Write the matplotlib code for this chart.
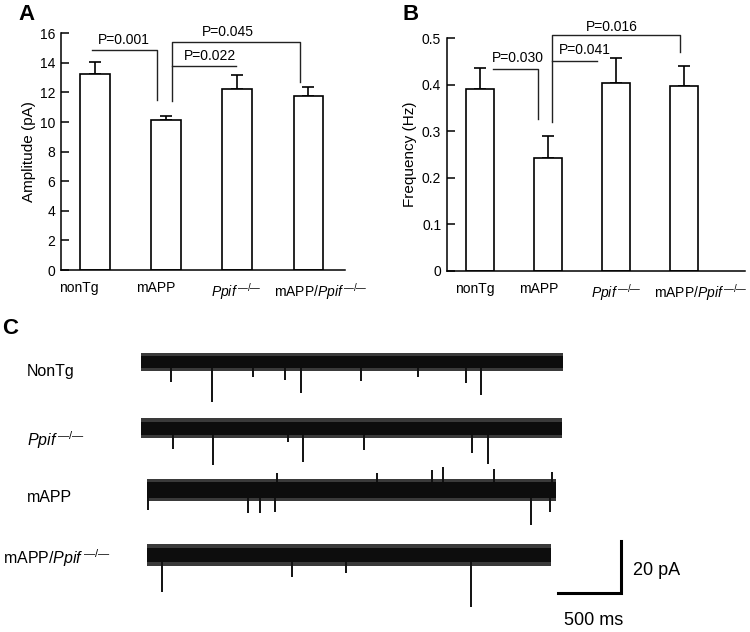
import numpy as np
import matplotlib
matplotlib.use("Agg")
import matplotlib.pyplot as plt

plt.rcParams['font.family'] = ['Liberation Sans', 'DejaVu Sans']
plt.rcParams['mathtext.fontset'] = 'custom'
plt.rcParams['mathtext.rm'] = 'Liberation Sans'
plt.rcParams['mathtext.it'] = 'Liberation Sans:italic'

# ---- data ----
groups = ['nonTg', 'mAPP', r'$Ppif^{\,\mathrm{—/—}}$', r'mAPP/$Ppif^{\,\mathrm{—/—}}$']

amp_mean = [13.27, 10.11, 12.23, 11.77]
amp_sem = [0.78, 0.31, 0.97, 0.63]
amp_p = ['P=0.001', 'P=0.045', 'P=0.022']

freq_mean = [0.390, 0.242, 0.403, 0.397]
freq_sem = [0.046, 0.047, 0.054, 0.044]
freq_p = ['P=0.030', 'P=0.016', 'P=0.041']

# sample traces: baseline span (ms) and clear events (time ms, pA; negative = inward)
trace_names = ['NonTg', r'$Ppif^{\,\mathrm{—/—}}$', 'mAPP', r'mAPP/$Ppif^{\,\mathrm{—/—}}$']
trace_span = [(0, 3363), (0, 3353), (48, 3305), (48, 3270)]
ev_nontg_t = [239, 563, 893, 1148, 1273, 1751, 2208, 2588, 2710]
ev_nontg_a = [-7.6, -15.2, -5.7, -6.8, -11.8, -7.2, -5.7, -8.0, -12.5]
ev_ppif_t = [255, 574, 1172, 1291, 1777, 2636, 2763]
ev_ppif_a = [-8.0, -14.0, -5.3, -12.9, -8.4, -9.5, -13.7]
ev_mapp_t = [56, 853, 948, 1068, 1082, 1879, 2317, 2407, 2813, 3108, 3260, 3273]
ev_mapp_a = [-7.6, -8.7, -8.7, -8.4, 6.5, 6.5, 7.6, 8.7, 8.0, -13.3, -8.4, 6.8]
ev_dbl_t = [170, 1201, 1634, 2630]
ev_dbl_a = [-14.0, -8.4, -6.8, -19.8]

# ---- layout ----
fig = plt.figure(figsize=(7.5, 6.32), dpi=100)
W, H = 750, 632


def px_axes(l, r, t, b):
    return fig.add_axes([l / W, 1 - b / H, (r - l) / W, (b - t) / H])


def bar_panel(ax, means, sems, ylim, yticks, ylabel, xlim, lab_x, brackets, pvals):
    x = np.arange(len(means))
    ax.bar(x, means, width=0.41, color='white', edgecolor='black', linewidth=1.2, zorder=2)
    ax.errorbar(x, means, yerr=[np.zeros(len(sems)), sems], fmt='none', ecolor='black',
                elinewidth=1.2, capsize=4, capthick=1.2, zorder=1)
    ax.set_xlim(*xlim)
    ax.set_ylim(*ylim)
    ax.set_yticks(yticks)
    ax.set_xticks(lab_x)
    ax.set_xticklabels(groups, fontsize=10)
    ax.tick_params(axis='x', length=0, pad=8)
    ax.tick_params(axis='y', direction='in', length=6, width=1.1, labelsize=10, pad=4)
    for s in ['top', 'right']:
        ax.spines[s].set_visible(False)
    for s in ['left', 'bottom']:
        ax.spines[s].set_linewidth(1.1)
    ax.set_ylabel(ylabel, fontsize=11)
    for (x0, x1, y, l0, l1, tx, ty), p in zip(brackets, pvals):
        xs, ys = [x0, x1], [y, y]
        if l0 is not None:
            xs, ys = [x0] + xs, [l0] + ys
        if l1 is not None:
            xs, ys = xs + [x1], ys + [l1]
        ax.plot(xs, ys, color='#222222', lw=1.0, clip_on=False)
        ax.text(tx, ty, p, ha='center', va='center', fontsize=10, clip_on=False)


axA = px_axes(61, 345, 33.3, 270)
bar_panel(axA, amp_mean, amp_sem, (0, 16), range(0, 17, 2), 'Amplitude (pA)',
          (-0.479, 3.52), [-0.23, 0.85, 1.99, 3.18],
          [(-0.04, 0.87, 14.85, None, 11.5, 0.40, 15.55),
           (1.08, 2.89, 15.44, 11.4, 12.7, 1.87, 16.1),
           (1.08, 1.99, 13.8, None, None, 1.62, 14.45)], amp_p)
axA.yaxis.set_label_coords(-0.088, 0.5)

axB = px_axes(446.7, 745, 38.3, 270.7)
bar_panel(axB, freq_mean, freq_sem, (0, 0.5), [0, 0.1, 0.2, 0.3, 0.4, 0.5], 'Frequency (Hz)',
          (-0.487, 3.9), [-0.07, 0.86, 2.0, 3.25],
          [(0.2, 0.85, 0.433, None, 0.326, 0.56, 0.458),
           (1.06, 2.94, 0.507, 0.32, 0.471, 1.94, 0.525),
           (1.06, 1.72, 0.451, None, None, 1.55, 0.474)], freq_p)
axB.set_yticklabels(['0', '0.1', '0.2', '0.3', '0.4', '0.5'])
axB.yaxis.set_label_coords(-0.098, 0.5)

fig.text(18 / W, 1 - 14 / H, 'A', fontsize=16, fontweight='bold', va='center')
fig.text(402 / W, 1 - 14 / H, 'B', fontsize=16, fontweight='bold', va='center')
fig.text(2 / W, 1 - 328 / H, 'C', fontsize=16, fontweight='bold', va='center')

# ---- panel C: traces ----
axC = fig.add_axes([0, 0, 1, 332 / H])
axC.set_xlim(-1124, 4854)
axC.set_ylim(0, 126.2)
axC.axis('off')

offsets = [102.6, 77.5, 54.0, 29.3]
band = [(2.2, 3.3), (2.5, 3.7), (3.0, 4.3), (2.8, 4.1)]
label_xy = [(-909, 99.0), (-909, 73.0), (-909, 51.0), (-1100, 28.1)]
events = [(ev_nontg_t, ev_nontg_a), (ev_ppif_t, ev_ppif_a),
          (ev_mapp_t, ev_mapp_a), (ev_dbl_t, ev_dbl_a)]

for name, (t0, t1), off, (core, fringe), (lx, ly), (et, ea) in zip(
        trace_names, trace_span, offsets, band, label_xy, events):
    tt = [t0, t1]
    axC.fill_between(tt, off - fringe, off + fringe, color='#3a3a3a', linewidth=0)
    axC.fill_between(tt, off - core, off + core, color='#0d0d0d', linewidth=0)
    for t, a in zip(et, ea):
        sgn = np.sign(a)
        axC.plot([t, t], [off + sgn * core, off + a], color='#111111', lw=1.4,
                 solid_capstyle='butt')
    axC.text(lx, ly, name, ha='left', va='center', fontsize=11.5)

# scale bar
axC.plot([3326, 3826, 3826], [14.7, 14.7, 34.7], color='black', lw=2.2, solid_joinstyle='miter')
axC.text(3921, 23.5, '20 pA', ha='left', va='center', fontsize=13)
axC.text(3610, 4.2, '500 ms', ha='center', va='center', fontsize=13)

fig.savefig('out.png', dpi=100)
